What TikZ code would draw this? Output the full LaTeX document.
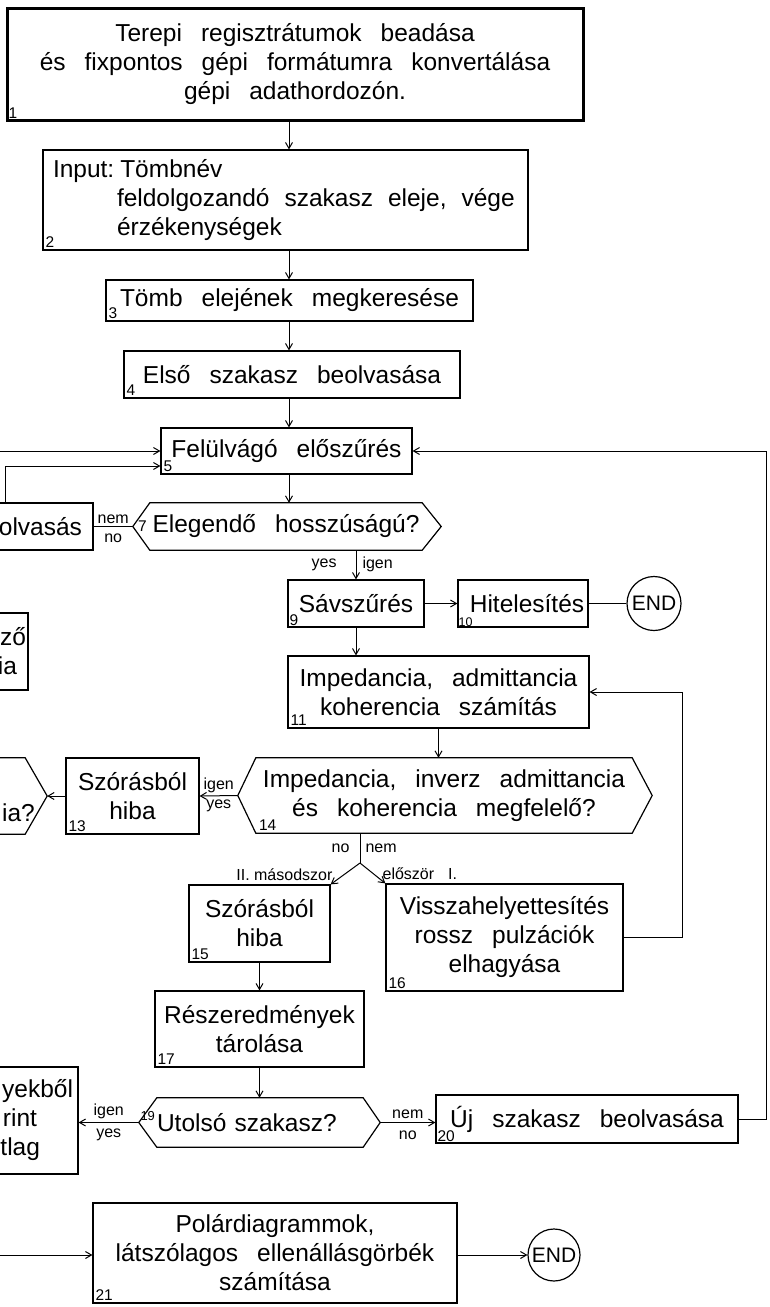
\documentclass[tikz,border=0pt]{standalone}
\usepackage{fontspec}
\setmainfont{Liberation Sans}
\usetikzlibrary{positioning}
\usetikzlibrary{arrows.meta}
\usetikzlibrary{calc}
\tikzset{>={Straight Barb[length=6pt,width=7pt]}}

\newcommand\boxfont{\fontsize{24.5}{29}\selectfont\spaceskip=19pt plus 3pt minus 2pt}
\newcommand\lblfont{\fontsize{16}{18}\selectfont}
\newcommand\numfont{\fontsize{15.5}{17}\selectfont}

\tikzset{
  box/.style={draw, line width=1.2pt, inner sep=0pt, align=center, font=\boxfont},
  hexbox/.style={inner sep=0pt, align=center, font=\boxfont},
  hexline/.style={line width=1.2pt},
  num/.style={font=\numfont, inner sep=3pt, anchor=south west},
  lbl/.style={font=\lblfont, inner sep=1pt},
  flow/.style={->, line width=1pt},
  endnode/.style={circle, draw, line width=1.2pt, minimum size=54pt, inner sep=0pt, font=\fontsize{21}{24}\selectfont},
}

\begin{document}
\begin{tikzpicture}[x=1pt, y=-1pt]
\useasboundingbox (0,0) rectangle (769,1307);
\clip (0,0) rectangle (769,1307);
\fill[white] (0,0) rectangle (769,1307);

% main column
\node[box, line width=3pt, minimum width=576pt, minimum height=112pt] (terepi) at (295,64)
  {Terepi regisztrátumok beadása\\és fixpontos gépi formátumra konvertálása\\gépi adathordozón.};
\node[num] (n1) at (terepi.south west) {1};
\node[box, minimum width=485pt, minimum height=100pt, text width=465pt, align=left, inner xsep=10pt] (input) at (285.5,200)
  {\spaceskip=15pt\mbox{Input:\hspace{6pt}Tömbnév}\\\hspace*{64pt}\mbox{feldolgozandó szakasz eleje, vége}\\\hspace*{64pt}\mbox{érzékenységek}};
\node[num] (n2) at (input.south west) {2};
\node[box, minimum width=367pt, minimum height=41pt] (tomb) at (289.5,300.5) {Tömb elejének megkeresése};
\node[num] (n3) at (tomb.south west) {3};
\node[box, minimum width=336pt, minimum height=47pt] (elso) at (292,374.5) {Első szakasz beolvasása};
\node[num] (n4) at (elso.south west) {4};
\node[box, minimum width=251pt, minimum height=46pt] (felul) at (286.5,451) {Felülvágó előszűrés};
\node[num] (n5) at (felul.south west) {5};

\coordinate (colA) at (289,0);
\draw[flow] (terepi.south -| colA) -- (input.north -| colA);
\draw[flow] (input.south -| colA) -- (tomb.north -| colA);
\draw[flow] (tomb.south -| colA) -- (elso.north -| colA);
\draw[flow] (elso.south -| colA) -- (felul.north -| colA);

% 7: enough length?
\node[hexbox, minimum width=272pt, minimum height=47pt] (elegendo) at (286,526.5) {Elegendő hosszúságú?};
\coordinate (elegendoL) at ($(elegendo.west)+(-17,0)$);
\coordinate (elegendoR) at ($(elegendo.east)+(19,0)$);
\draw[hexline] (elegendoL) -- (elegendo.north west) -- (elegendo.north east) -- (elegendoR)
  -- (elegendo.south east) -- (elegendo.south west) -- cycle;
\node[num, anchor=west, inner sep=0pt] (n7) at ($(elegendoL)+(5,0)$) {7};
\draw[flow] (felul.south -| colA) -- (elegendo.north -| colA);

% cut off on the left
\node[box, minimum width=206pt, minimum height=47pt, text width=184pt, align=right, inner xsep=11pt] (olvas) at (-10,526.5) {olvasás};
\draw[line width=1pt] (olvas.east) -- node[lbl, above=1pt] (nem7) {nem} node[lbl, below=6pt] (no7) {no} (elegendoL);
\coordinate (olvcorner) at (5,466);
\draw[flow] (olvcorner |- olvas.north) -- (olvcorner) -- (olvcorner -| felul.west);
\coordinate (leftin) at (0,451);
\draw[flow] (leftin) -- (felul.west);
\node[box, minimum width=228pt, minimum height=77pt, text width=224pt, align=right, inner xsep=2pt] (kieso) at (-86,651.5) {ző\\ia\kern9pt};

% 9, 10
\node[box, minimum width=136pt, minimum height=47pt] (sav) at (356,603.5) {Sávszűrés};
\node[num, inner sep=2pt] (n9) at (sav.south west) {9};
\node[box, minimum width=130pt, minimum height=47pt] (hitel) at (523,603.5) {\hspace*{8pt}Hitelesítés};
\node[num, inner sep=1pt, font=\fontsize{12.5}{14}\selectfont] (n10) at (hitel.south west) {10};
\node[endnode] (end1) at (654,603.5) {END};
\draw[flow] (elegendo.south -| sav.north) -- node[lbl, left=18pt] (yes7) {yes} node[lbl, right=5pt] (igen7) {igen} (sav.north);
\draw[flow] (sav) -- (hitel);
\draw[line width=1pt] (hitel) -- (end1);

% 11
\node[box, minimum width=301pt, minimum height=72pt] (imped) at (438.5,692) {Impedancia, admittancia\\koherencia számítás};
\node[num] (n11) at (imped.south west) {11};
\draw[flow] (sav.south) -- (sav.south |- imped.north);

% 14
\node[hexbox, minimum width=376pt, minimum height=75pt] (megfel) at (444,795.5) {Impedancia, inverz admittancia\\és koherencia megfelelő?};
\coordinate (megfelL) at ($(megfel.west)+(-18,0)$);
\coordinate (megfelR) at ($(megfel.east)+(20,0)$);
\draw[hexline] (megfelL) -- (megfel.north west) -- (megfel.north east) -- (megfelR)
  -- (megfel.south east) -- (megfel.south west) -- cycle;
\node[num] (n14) at (megfel.south west) {14};
\draw[flow] (imped.south) -- (imped.south |- megfel.north);

% 13 and the cut off question
\node[box, minimum width=133pt, minimum height=76pt] (szoras1) at (132.5,796) {Szórásból\\hiba};
\node[num] (n13) at (szoras1.south west) {13};
\draw[flow] (megfelL) -- node[lbl, above=1pt] (igen14) {igen} node[lbl, below=3pt] (yes14) {yes} (szoras1.east);
\node[hexbox, minimum width=225pt, minimum height=76pt] (kerdes12) at (-87.5,796) {};
\coordinate (kerdes12R) at ($(kerdes12.east)+(22,0)$);
\draw[hexline] (kerdes12.north west) -- (kerdes12.north east) -- (kerdes12R) -- (kerdes12.south east) -- (kerdes12.south west);
\node[font=\boxfont, anchor=east, inner sep=0pt] (kerdes12txt) at (35,813) {ia?};
\draw[flow] (szoras1.west) -- (kerdes12R);

% 15, 16
\node[box, minimum width=141pt, minimum height=77pt] (szoras2) at (259.5,923.5) {Szórásból\\hiba};
\node[num] (n15) at (szoras2.south west) {15};
\node[box, minimum width=237pt, minimum height=107pt] (vissza) at (504.5,937.5) {Visszahelyettesítés\\rossz pulzációk\\elhagyása};
\node[num] (n16) at (vissza.south west) {16};
\coordinate (split) at (360,863);
\draw[line width=1pt] (megfel.south -| split) -- node[lbl, left=9pt] (no14) {no} node[lbl, right=4pt] (nem14) {nem} (split);
\draw[flow] (split) -- (szoras2.north east);
\draw[flow] (split) -- (vissza.north west);
\node[lbl, anchor=south east] (masod) at ($(szoras2.north east)+(3,-3)$) {II. másodszor};
\node[lbl, anchor=south west] (eloszor) at ($(vissza.north west)+(-4,-3)$) {először\hspace{14pt}I.};
\draw[flow] (vissza.east) -- ++(59,0) |- (imped.east);

% 17, 19
\node[box, minimum width=209pt, minimum height=76pt] (reszer) at (259.5,1029) {Részeredmények\\tárolása};
\node[num] (n17) at (reszer.south west) {17};
\draw[flow] (szoras2.south) -- (szoras2.south |- reszer.north);
\node[hexbox, minimum width=206pt, minimum height=49pt, text width=206pt, align=left] (utolso) at (260,1122.5) {Utolsó szakasz?};
\coordinate (utolsoL) at ($(utolso.west)+(-18,0)$);
\coordinate (utolsoR) at ($(utolso.east)+(17,0)$);
\draw[hexline] (utolsoL) -- (utolso.north west) -- (utolso.north east) -- (utolsoR)
  -- (utolso.south east) -- (utolso.south west) -- cycle;
\node[num, anchor=west, inner sep=0pt, font=\fontsize{13}{15}\selectfont] (n19) at ($(utolsoL)+(1.5,-6)$) {19};
\draw[flow] (reszer.south) -- (reszer.south |- utolso.north);

% 18 (cut off) and 20
\node[box, minimum width=200pt, minimum height=107pt, text width=190pt, align=right, inner xsep=5pt] (atlag) at (-22,1120.5)
  {yekből\\rint\kern36pt\\tlag\kern33pt};
\draw[flow] (utolsoL) -- node[lbl, above=2pt] (igen19) {igen} node[lbl, below=5pt] (yes19) {yes} (utolsoL -| atlag.east);
\node[box, minimum width=302pt, minimum height=48pt] (ujsz) at (587,1119) {Új szakasz beolvasása};
\node[num, inner sep=2pt] (n20) at (ujsz.south west) {20};
\draw[flow] (utolsoR) -- node[lbl, above=2pt] (nem19) {nem} node[lbl, below=7pt] (no19) {no} (utolsoR -| ujsz.west);
\draw[flow] (ujsz.east) -- ++(28,0) |- (felul.east);

% 21
\node[box, minimum width=364pt, minimum height=100pt] (polar) at (275,1253) {Polárdiagrammok,\\látszólagos ellenállásgörbék\\számítása};
\node[num] (n21) at (polar.south west) {21};
\coordinate (leftin2) at (0,1255);
\draw[flow] (leftin2) -- (leftin2 -| polar.west);
\node[endnode, minimum size=52pt] (end2) at (554,1255) {END};
\draw[flow] (end2 -| polar.east) -- (end2);
\end{tikzpicture}
\end{document}
